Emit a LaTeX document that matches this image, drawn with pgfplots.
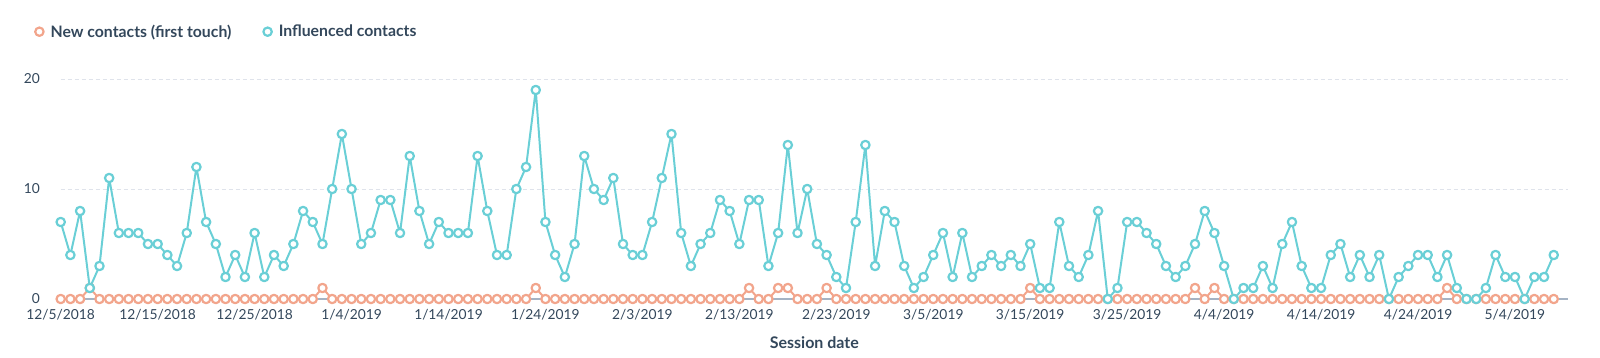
\documentclass[border=0pt]{standalone}
\usepackage{pgfplots}
\pgfplotsset{compat=1.18}
\usepackage{pgfplotstable}
\usepackage{fontspec}
\setmainfont{Lato}
\definecolor{tealc}{HTML}{6ACFD6}
\definecolor{orangec}{HTML}{F2A58C}
\definecolor{navy}{HTML}{33475B}
\definecolor{gridc}{HTML}{DFE3EB}
\definecolor{basec}{HTML}{A5B3C4}

\pgfplotstableread{
d new inf
0 0 7
1 0 4
2 0 8
3 1 1
4 0 3
5 0 11
6 0 6
7 0 6
8 0 6
9 0 5
10 0 5
11 0 4
12 0 3
13 0 6
14 0 12
15 0 7
16 0 5
17 0 2
18 0 4
19 0 2
20 0 6
21 0 2
22 0 4
23 0 3
24 0 5
25 0 8
26 0 7
27 1 5
28 0 10
29 0 15
30 0 10
31 0 5
32 0 6
33 0 9
34 0 9
35 0 6
36 0 13
37 0 8
38 0 5
39 0 7
40 0 6
41 0 6
42 0 6
43 0 13
44 0 8
45 0 4
46 0 4
47 0 10
48 0 12
49 1 19
50 0 7
51 0 4
52 0 2
53 0 5
54 0 13
55 0 10
56 0 9
57 0 11
58 0 5
59 0 4
60 0 4
61 0 7
62 0 11
63 0 15
64 0 6
65 0 3
66 0 5
67 0 6
68 0 9
69 0 8
70 0 5
71 1 9
72 0 9
73 0 3
74 1 6
75 1 14
76 0 6
77 0 10
78 0 5
79 1 4
80 0 2
81 0 1
82 0 7
83 0 14
84 0 3
85 0 8
86 0 7
87 0 3
88 0 1
89 0 2
90 0 4
91 0 6
92 0 2
93 0 6
94 0 2
95 0 3
96 0 4
97 0 3
98 0 4
99 0 3
100 1 5
101 0 1
102 0 1
103 0 7
104 0 3
105 0 2
106 0 4
107 0 8
108 0 0
109 0 1
110 0 7
111 0 7
112 0 6
113 0 5
114 0 3
115 0 2
116 0 3
117 1 5
118 0 8
119 1 6
120 0 3
121 0 0
122 0 1
123 0 1
124 0 3
125 0 1
126 0 5
127 0 7
128 0 3
129 0 1
130 0 1
131 0 4
132 0 5
133 0 2
134 0 4
135 0 2
136 0 4
137 0 0
138 0 2
139 0 3
140 0 4
141 0 4
142 0 2
143 1 4
144 0 1
145 0 0
146 0 0
147 0 1
148 0 4
149 0 2
150 0 2
151 0 0
152 0 2
153 0 2
154 0 4
}\datatable

\begin{document}
\begin{tikzpicture}[x=1pt,y=1pt]
\useasboundingbox (0,0) rectangle (1600,357);
\begin{axis}[
  at={(60.7pt,58pt)}, anchor=south west, scale only axis,
  width=1507.3pt, height=220pt,
  xmin=0, xmax=155.47, ymin=0, ymax=20,
  clip=false,
  axis line style={draw=none},
  tick style={draw=none},
  major tick length=0pt,
  xtick={0,10,...,150},
  xticklabels={12/5/2018,12/15/2018,12/25/2018,1/4/2019,1/14/2019,1/24/2019,2/3/2019,2/13/2019,2/23/2019,3/5/2019,3/15/2019,3/25/2019,4/4/2019,4/14/2019,4/24/2019,5/4/2019},
  xticklabel style={font=\fontsize{13.8}{16}\selectfont, text=navy, anchor=center, inner sep=0pt, yshift=-16pt},
  ytick={10,20},
  yticklabels={10,20},
  extra y ticks={0},
  extra y tick labels={0},
  extra y tick style={ymajorgrids=true, major grid style={solid, draw=basec, line width=1.5pt}},
  yticklabel style={font=\fontsize{13.8}{16}\selectfont, text=navy, anchor=east, inner sep=0pt, xshift=-20.7pt},
  ymajorgrids=true,
  major grid style={draw=gridc, line width=1pt, dash pattern=on 4pt off 3pt},
  xlabel={\bfseries Session date},
  xlabel style={font=\fontsize{16}{19}\selectfont, text=navy, at={(axis description cs:0.5,-0.2)}, anchor=center, inner sep=0pt},
  legend image code/.code={\draw[#1] plot coordinates {(5pt,0pt)};},
  legend columns=2,
  legend style={at={(axis description cs:-0.01705,1.215)}, anchor=west, draw=none, fill=none,
    inner xsep=0pt, inner ysep=0pt,
    font=\fontsize{15.8}{19}\selectfont\bfseries, text=navy,
    nodes={inner sep=0pt, anchor=west},
    /tikz/every odd column/.append style={column sep=7pt},
    /tikz/every even column/.append style={column sep=32pt}},
]
\addplot[color=orangec, line width=2pt, line join=round, mark=*, mark size=4.2pt, mark options={fill=white, draw=orangec, line width=2.2pt, solid}] table[x=d, y=new] {\datatable};
\addlegendentry{New contacts (first touch)}
\addplot[color=tealc, line width=2pt, line join=round, mark=*, mark size=4.2pt, mark options={fill=white, draw=tealc, line width=2.2pt, solid}] table[x=d, y=inf] {\datatable};
\addlegendentry{Influenced contacts}
\end{axis}
\end{tikzpicture}
\end{document}
